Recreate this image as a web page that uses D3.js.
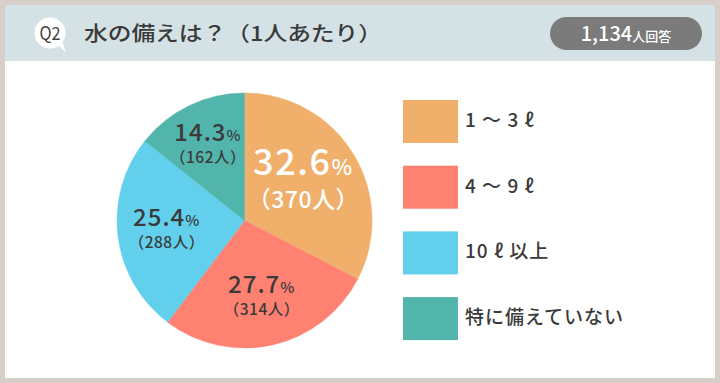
<!DOCTYPE html>
<html>
<head>
<meta charset="utf-8">
<script src="https://cdn.jsdelivr.net/npm/d3@7"></script>
<style>
  html, body { margin: 0; padding: 0; background: #fff; }
  svg { display: block; font-family: "Noto Sans CJK JP", "Noto Sans", sans-serif; }
</style>
</head>
<body>
<div id="chart"></div>
<script>
'use strict';

var categories = ['1 ～ 3 ℓ', '4 ～ 9 ℓ', '10 ℓ 以上', '特に備えていない']
var counts = [370, 314, 288, 162]
var percents = [32.6, 27.7, 25.4, 14.3]
var colors = ['#f0af6b', '#fe8172', '#62d0ec', '#52b5ac']
var title = '水の備えは？（1人あたり）'
var totalLabel = '1,134'

var width = 720, height = 383

var svg = d3.select('#chart').append('svg')
  .attr('width', width)
  .attr('height', height)

// Frame + header
svg.append('rect')
  .attr('width', width).attr('height', height)
  .attr('fill', '#d8cfca')
svg.append('rect')
  .attr('x', 5).attr('y', 5)
  .attr('width', width - 10).attr('height', height - 10)
  .attr('fill', '#fff')
svg.append('rect')
  .attr('x', 5).attr('y', 5)
  .attr('width', width - 10).attr('height', 56)
  .attr('fill', '#d4e2e5')

// Q2 bubble
var q = svg.append('g').attr('transform', 'translate(50,33)')
q.append('circle').attr('r', 15.5).attr('fill', '#fff')
q.append('path').attr('d', 'M6,10 L16,20 L12,7 Z').attr('fill', '#fff')
q.append('text')
  .attr('text-anchor', 'middle').attr('y', 6.5)
  .style('font-size', '18px').style('fill', '#444')
  .attr('textLength', 21).attr('lengthAdjust', 'spacingAndGlyphs')
  .text('Q2')

svg.append('text')
  .attr('x', 84).attr('y', 41)
  .style('font-size', '20px').style('font-weight', 500).style('fill', '#3a3a3a')
  .attr('textLength', 298).attr('lengthAdjust', 'spacingAndGlyphs')
  .text(title)

// Badge
svg.append('rect')
  .attr('x', 550).attr('y', 17).attr('width', 152).attr('height', 33).attr('rx', 16.5)
  .attr('fill', '#7b7b7b')
var badge = svg.append('text')
  .attr('x', 626).attr('y', 41).attr('text-anchor', 'middle')
  .style('fill', '#fff')
badge.append('tspan').style('font-size', '20px').style('font-weight', 500).text(totalLabel)
badge.append('tspan').style('font-size', '13px').style('font-weight', 500).text('人回答')

// Pie
var cx = 244.5, cy = 220.5, r = 127.5

var pie = d3.pie().sort(null).value(function(d) { return d })
var arcs = pie(counts)
var arc = d3.arc().innerRadius(0).outerRadius(r)

var g = svg.append('g').attr('transform', 'translate(' + cx + ',' + cy + ')')

g.selectAll('.slice')
  .data(arcs)
  .enter().append('path')
    .attr('class', 'slice')
    .attr('d', arc)
    .attr('fill', function(d, i) { return colors[i] })
    .attr('stroke', function(d, i) { return colors[i] })
    .attr('stroke-width', 0.5)

var maxIdx = d3.maxIndex(counts)

var label = g.selectAll('.lbl')
  .data(arcs)
  .enter().append('g')
    .attr('class', 'lbl')
    .attr('transform', function(d, i) {
      var lr = i === maxIdx ? r * 0.54 : (d.endAngle - d.startAngle < 1 ? r * 0.66 : r * 0.615)
      var c = d3.arc().innerRadius(lr).outerRadius(lr).centroid(d)
      return 'translate(' + c[0] + ',' + c[1] + ')'
    })

label.each(function(d, i) {
  var big = i === maxIdx
  var el = d3.select(this)
  var fill = big ? '#fff' : '#3a3a3a'
  var t = el.append('text')
    .attr('text-anchor', 'middle')
    .attr('y', big ? -10 : -4)
    .style('fill', fill).style('font-weight', 500)
    .style('letter-spacing', big ? '1.5px' : '1px')
  t.append('tspan').style('font-size', big ? '36px' : '24px').text(percents[i].toFixed(1))
  t.append('tspan').style('font-size', big ? '22px' : '15px').text('%')
  el.append('text')
    .attr('text-anchor', 'middle')
    .attr('y', big ? 23 : 18)
    .style('fill', fill).style('font-weight', 500)
    .style('font-size', big ? '23px' : '15.5px')
    .style('letter-spacing', '0.5px')
    .text('（' + counts[i] + '人）')
})

// Legend
var legend = svg.selectAll('.legend')
  .data(categories)
  .enter().append('g')
    .attr('class', 'legend')
    .attr('transform', function(d, i) { return 'translate(403,' + (100 + i * 65.7) + ')' })

legend.append('rect')
  .attr('width', 55).attr('height', 43)
  .attr('fill', function(d, i) { return colors[i] })

legend.append('text')
  .attr('x', 62).attr('y', 27)
  .style('font-size', '19px').style('font-weight', 500).style('fill', '#3a3a3a')
  .style('letter-spacing', '1px')
  .text(function(d) { return d })
</script>
</body>
</html>
